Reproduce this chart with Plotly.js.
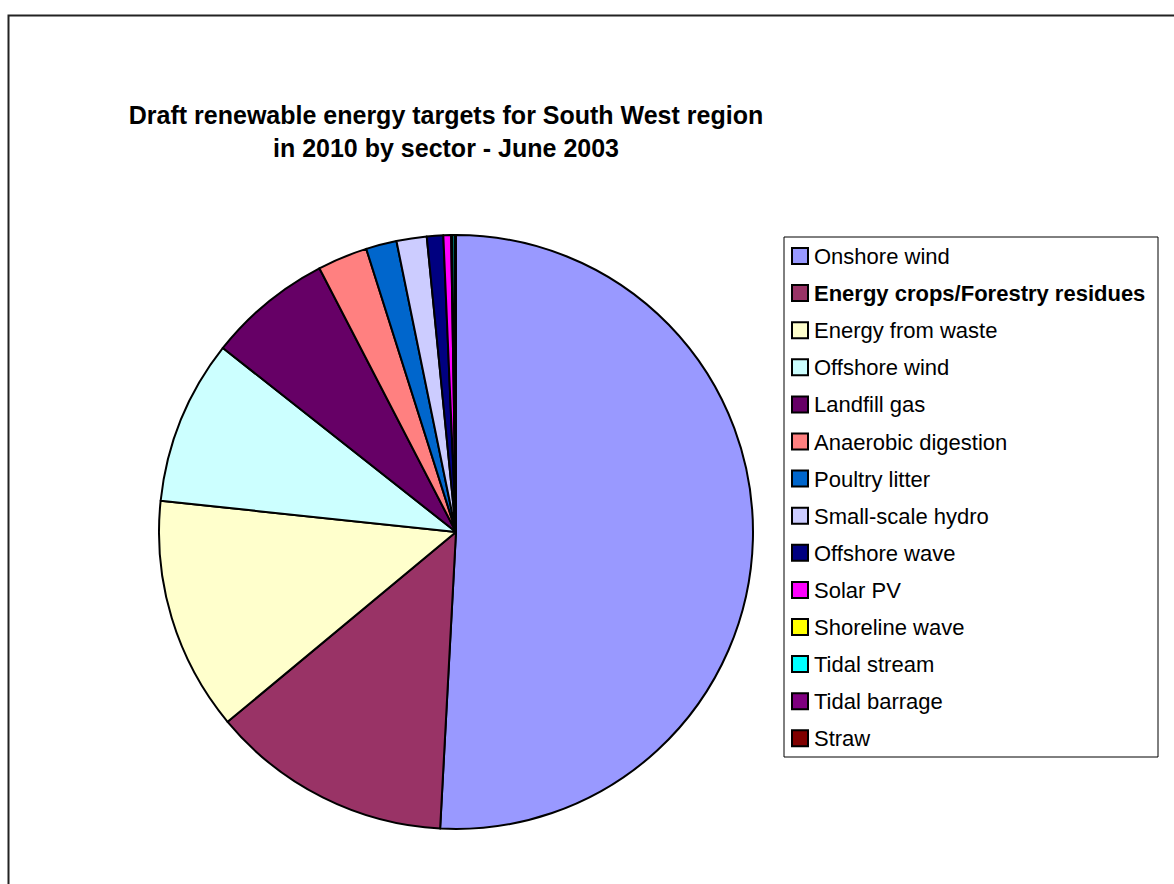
<!DOCTYPE html>
<html>
<head>
<meta charset="utf-8">
<script src="https://cdn.plot.ly/plotly-3.0.1.min.js"></script>
<style>
  html, body { margin: 0; padding: 0; background: #ffffff; }
  #chart { width: 1174px; height: 884px; }
</style>
</head>
<body>
<div id="chart"></div>
<script>
// Sectors (legend order) and their estimated share of the 2010 target (%)
const sectors = [
  "Onshore wind",
  "Energy crops/Forestry residues",
  "Energy from waste",
  "Offshore wind",
  "Landfill gas",
  "Anaerobic digestion",
  "Poultry litter",
  "Small-scale hydro",
  "Offshore wave",
  "Solar PV",
  "Shoreline wave",
  "Tidal stream",
  "Tidal barrage",
  "Straw"
];
const shares = [50.8, 13.1, 12.7, 8.95, 6.75, 2.72, 1.67, 1.64, 0.89, 0.42, 0.05, 0.14, 0.05, 0.02];
const sliceColors = [
  "#9999FF", "#993366", "#FFFFCC", "#CCFFFF", "#660066", "#FF8080", "#0066CC",
  "#CCCCFF", "#000080", "#FF00FF", "#FFFF00", "#00FFFF", "#800080", "#800000"
];
const boldLegend = [false, true, false, false, false, false, false, false, false, false, false, false, false, false];
const titleText = "Draft renewable energy targets for South West region<br>in 2010 by sector - June 2003";

const W = 1174, H = 884;
const FONT = "Liberation Sans, Arial, Helvetica, sans-serif";
const px = v => v / W;
const py = v => 1 - v / H;

// pie geometry
const cx = 456, cy = 532, r = 297;

const trace = {
  type: "pie",
  labels: sectors,
  values: shares,
  sort: false,
  direction: "clockwise",
  rotation: 0,
  textinfo: "none",
  hoverinfo: "label+percent",
  marker: { colors: sliceColors, line: { color: "#000000", width: 2 } },
  domain: { x: [px(cx - r), px(cx + r)], y: [py(cy + r), py(cy - r)] },
  showlegend: false
};

// Legend drawn from arrays
const legTop = 237, legBottom = 757, legLeft = 784, legRight = 1158;
const row0 = 256, rowStep = 37.1;
const shapes = [
  { type: "rect", xref: "paper", yref: "paper", x0: px(8.5), x1: 1.02, y0: py(15.5), y1: -0.02,
    line: { color: "#222222", width: 2 }, fillcolor: "rgba(0,0,0,0)", layer: "below" },
  { type: "rect", xref: "paper", yref: "paper", x0: px(legLeft), x1: px(legRight), y0: py(legTop), y1: py(legBottom),
    line: { color: "#000000", width: 1 }, fillcolor: "#ffffff", layer: "below" }
];
const annotations = [];
sectors.forEach((s, i) => {
  const yc = row0 + i * rowStep;
  shapes.push({ type: "rect", xref: "paper", yref: "paper",
    x0: px(792), x1: px(808), y0: py(yc + 8), y1: py(yc - 8),
    fillcolor: sliceColors[i], line: { color: "#000000", width: 2 } });
  annotations.push({ xref: "paper", yref: "paper", x: px(812), y: py(yc + 0.5),
    xanchor: "left", yanchor: "middle", showarrow: false,
    text: boldLegend[i] ? "<b>" + s + "</b>" : s,
    font: { family: FONT, size: 22, color: "#000000" } });
});

const layout = {
  width: W, height: H,
  margin: { l: 0, r: 0, t: 0, b: 0 },
  paper_bgcolor: "#ffffff",
  plot_bgcolor: "#ffffff",
  font: { family: FONT, color: "#000000" },
  title: {
    text: "<b>" + titleText + "</b>",
    font: { family: FONT, size: 25, color: "#000000" },
    x: px(446), xanchor: "center", xref: "paper",
    y: py(124), yanchor: "top", yref: "paper"
  },
  showlegend: false,
  shapes: shapes,
  annotations: annotations
};

Plotly.newPlot("chart", [trace], layout, { displayModeBar: false, staticPlot: true });
</script>
</body>
</html>
